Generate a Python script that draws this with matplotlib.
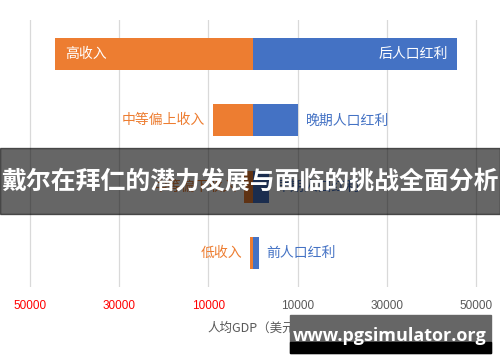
import matplotlib
matplotlib.use("Agg")
from matplotlib import pyplot as plt
from matplotlib.patches import Rectangle

plt.rcParams['font.family'] = ['Noto Sans CJK SC', 'DejaVu Sans']

# income groups, bottom to top
income = ['低收入', '中等偏下收入', '中等偏上收入', '高收入']
dividend = ['前人口红利', '早期人口红利', '晚期人口红利', '后人口红利']
left_vals = [700, 2000, 9000, 44400]     # orange, drawn to the left
right_vals = [1300, 3600, 10100, 45700]  # blue, drawn to the right
ticks = [-50000, -30000, -10000, 10000, 30000, 50000]
tick_labels = ['50000', '30000', '10000', '10000', '30000', '50000']

orange = '#ED7D31'
blue = '#4472C4'

fig = plt.figure(figsize=(5, 3.62), dpi=100)
ax = fig.add_axes([0.051, 0.207, 0.91, 0.7376])

y = list(range(len(income)))
ax.barh(y, [-v for v in left_vals], height=0.48, color=orange, zorder=2)
ax.barh(y, right_vals, height=0.48, color=blue, zorder=2)

ax.set_xlim(-51000, 51000)
ax.set_ylim(-0.51, 3.51)
ax.set_xticks(ticks)
ax.set_xticklabels(tick_labels, family='Liberation Sans', fontsize=8.5)
for lab, col in zip(ax.get_xticklabels(), ['#FF0000'] * 3 + ['#595959'] * 3):
    lab.set_color(col)
ax.tick_params(axis='x', length=0, pad=9)
ax.set_yticks([])
for s in ax.spines.values():
    s.set_visible(False)
ax.grid(axis='x', color='#d9d9d9', linewidth=0.9, zorder=0)

gap = 1700
for i in y:
    if i == 3:
        ax.text(-left_vals[i] + 2200, i, income[i], color='white', fontsize=10,
                ha='left', va='center', zorder=3)
        ax.text(right_vals[i] - 2000, i, dividend[i], color='white', fontsize=10,
                ha='right', va='center', zorder=3)
    else:
        ax.text(-left_vals[i] - gap, i, income[i], color=orange, fontsize=10,
                ha='right', va='center', zorder=3)
        ax.text(right_vals[i] + gap, i, dividend[i], color=blue, fontsize=10,
                ha='left', va='center', zorder=3)

fig.text(0.515, 1 - 328 / 362, '人均GDP（美元）', color='#595959', fontsize=9,
         ha='center', va='center')

# overlay banner
fig.patches.append(Rectangle((0, 1 - 214 / 362), 1, 66 / 362, transform=fig.transFigure,
                             color='black', alpha=0.6, zorder=5))
fig.text(0.5, 1 - 182 / 362, '戴尔在拜仁的潜力发展与面临的挑战全面分析', color='white',
         fontsize=17.9, fontweight='bold', ha='center', va='center', zorder=6)

# watermark
fig.patches.append(Rectangle((290 / 500, 1 - 353 / 362), 201 / 500, 38 / 362,
                             transform=fig.transFigure, color='#666666', zorder=5))
fig.patches.append(Rectangle((290 / 500, 1 - 353 / 362), 201 / 500, 11 / 362,
                             transform=fig.transFigure, color='black', zorder=5))
fig.text(390 / 500, 1 - 336 / 362, 'www.pgsimulator.org', color='white', fontsize=13,
         fontweight='bold', family=['Open Sans', 'DejaVu Sans'],
         ha='center', va='center', zorder=6)

fig.savefig('out.png', dpi=100)
